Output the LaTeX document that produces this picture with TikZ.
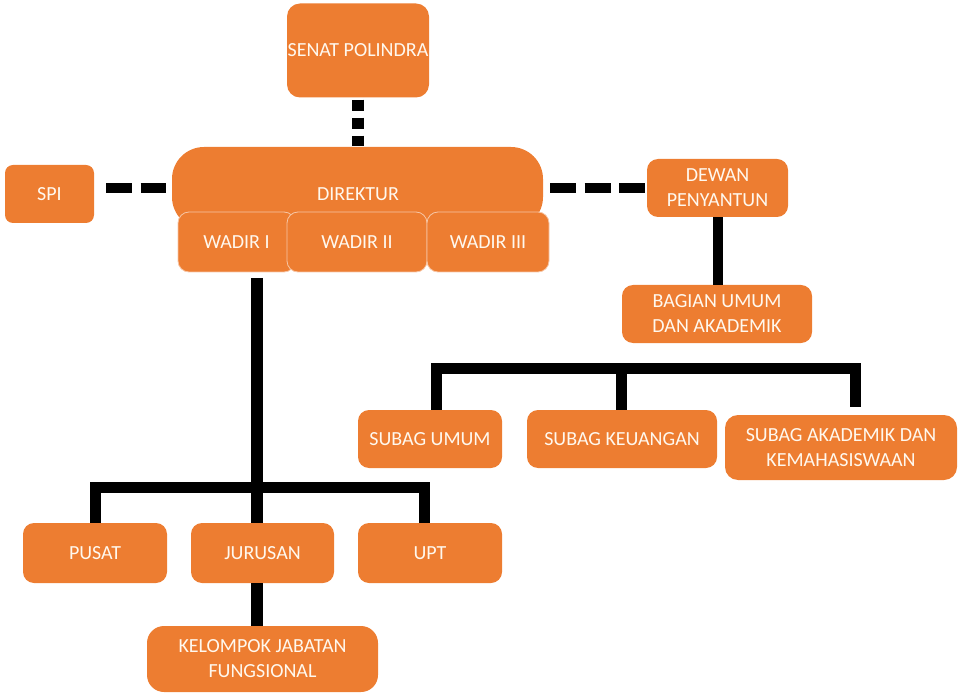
\documentclass[tikz,border=0pt]{standalone}
\usepackage{fontspec}
\setmainfont{Carlito}
\definecolor{orgfill}{HTML}{ED7D31}
\definecolor{orgtext}{HTML}{FFF8EE}
\definecolor{orgedge}{HTML}{F6C6A6}
\begin{document}
\begin{tikzpicture}[x=1pt,y=-1pt,
  box/.style={fill=orgfill, draw=none, rounded corners=11, text=orgtext,
    font=\fontsize{20}{25}\selectfont, align=center, inner sep=0pt},
  wbox/.style={box, draw=orgedge, line width=0.8},
  lbl/.style={text=orgtext, font=\fontsize{20}{25}\selectfont, align=center, inner sep=0pt},
  solidlink/.style={line width=11, draw=black, line join=miter, line cap=butt},
  dashvlink/.style={line width=12, draw=black, dash pattern=on 11 off 7},
  dashhlink/.style={line width=10, draw=black, dash pattern=on 26 off 8.5}]
\useasboundingbox (0,0) rectangle (963,700);

% top
\node[box, minimum width=142, minimum height=94, rounded corners=13] (senat) at (358,50.5) {SENAT POLINDRA};
\node[box, minimum width=371, minimum height=82, rounded corners=32] (direktur) at (357.5,188) {};
\node[lbl] (direkturlbl) at (358,194) {DIREKTUR};
\node[box, minimum width=89, minimum height=58, rounded corners=8] (spi) at (49.5,194) {SPI};
\node[wbox, minimum width=117, minimum height=60] (wadir1) at (236.5,242) {WADIR I};
\node[wbox, minimum width=140, minimum height=60] (wadir2) at (357,242) {WADIR II};
\node[wbox, minimum width=122, minimum height=60] (wadir3) at (488,242) {WADIR III};

% right branch
\node[box, minimum width=141, minimum height=58] (dewan) at (717.5,188) {DEWAN\\PENYANTUN};
\node[box, minimum width=190, minimum height=58] (bagian) at (717,314) {BAGIAN UMUM\\DAN AKADEMIK};
\node[box, minimum width=144, minimum height=58] (subumum) at (430,439) {SUBAG UMUM};
\node[box, minimum width=190, minimum height=58] (subkeu) at (622,439) {SUBAG KEUANGAN};
\node[box, minimum width=232, minimum height=65, rounded corners=13] (subakad) at (841,447.5) {SUBAG AKADEMIK DAN\\KEMAHASISWAAN};

% bottom branch
\node[box, minimum width=144, minimum height=60] (pusat) at (95,553) {PUSAT};
\node[box, minimum width=143, minimum height=60] (jurusan) at (262.5,553) {JURUSAN};
\node[box, minimum width=144, minimum height=60] (upt) at (430,553) {UPT};
\node[box, minimum width=231, minimum height=66, rounded corners=17] (kelompok) at (262.5,659) {KELOMPOK JABATAN\\FUNGSIONAL};

% dashed links
\draw[dashvlink] (senat.south) ++(0,2) -- (358,146);
\coordinate (spiend) at (106,188);
\coordinate (dirleft) at (166,188);
\draw[dashhlink] (spiend) -- (dirleft);
\coordinate (dirright) at (550,188);
\draw[dashhlink] (dirright) -- (dewan.west |- dirright);

% solid links right
\draw[solidlink, line width=10] (dewan.south -| 718,0) -- (bagian.north -| 718,0);
\coordinate (busL) at (436,368);
\coordinate (busR) at (855,368);
\coordinate (busM) at (621.5,368);
\coordinate (dropR) at (855,407);
\draw[solidlink] (subumum.north -| busL) -- (busL) -- (busR) -- (dropR);
\draw[solidlink] (busM) -- (subkeu.north -| busM);

% solid links bottom
\coordinate (trunktop) at (257,278);
\draw[solidlink, line width=12] (trunktop) -- (trunktop |- jurusan.north);
\coordinate (bbL) at (95,487.5);
\coordinate (bbR) at (424,487.5);
\draw[solidlink] (pusat.north -| bbL) -- (bbL) -- (bbR) -- (upt.north -| bbR);
\draw[solidlink, line width=12] (jurusan.south -| trunktop) -- (kelompok.north -| trunktop);
\end{tikzpicture}
\end{document}
